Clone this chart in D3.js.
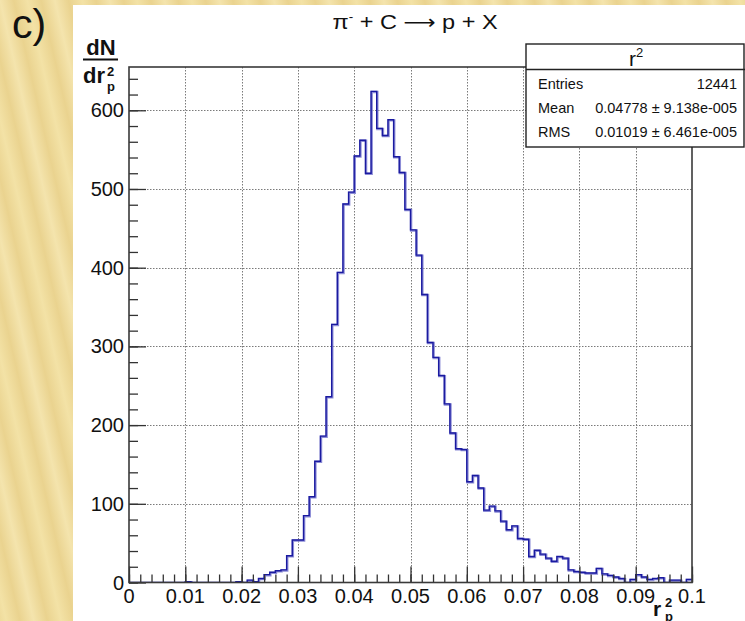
<!DOCTYPE html>
<html>
<head>
<meta charset="utf-8">
<script src="https://cdn.jsdelivr.net/npm/d3@7"></script>
<style>
  body { margin: 0; background: #fff; }
  svg { display: block; font-family: "Liberation Sans", Arial, sans-serif; }
</style>
</head>
<body>
<div id="chart"></div>
<script>
// histogram of r^2 (100 bins from 0 to 0.1), counts
const binCounts = [
  0, 0, 0, 0, 0, 0, 0, 0, 0, 0,
  1, 0, 0, 0, 0, 0, 0, 0, 0, 1,
  0, 3, 1, 5, 10, 13, 15, 16, 34, 54,
  54, 85, 109, 154, 186, 236, 328, 394, 481, 496,
  542, 562, 520, 624, 577, 568, 588, 541, 521, 474,
  448, 416, 366, 305, 286, 263, 227, 190, 170, 169,
  128, 136, 120, 92, 97, 91, 78, 67, 72, 56,
  55, 33, 41, 36, 31, 27, 33, 31, 16, 14,
  13, 12, 12, 18, 11, 9, 7, 5, 0, 4,
  10, 7, 4, 5, 6, 0, 3, 3, 0, 4,
];
const xDomain = [0, 0.1];
const yDomain = [0, 655];
const xTicks = [0, 0.01, 0.02, 0.03, 0.04, 0.05, 0.06, 0.07, 0.08, 0.09, 0.1];
const xTickLabels = ["0", "0.01", "0.02", "0.03", "0.04", "0.05", "0.06", "0.07", "0.08", "0.09", "0.1"];
const yTicks = [0, 100, 200, 300, 400, 500, 600];
const statsTitle = "r";
const statsRows = [
  ["Entries", "12441"],
  ["Mean", "0.04778 \u00b1 9.138e-005"],
  ["RMS", "0.01019 \u00b1 6.461e-005"],
];

const width = 745;
const height = 621;
const frame = { left: 129, right: 692, top: 67, bottom: 582.5 };

const svg = d3
  .select("#chart")
  .append("svg")
  .attr("width", width)
  .attr("height", height);

// parchment background with soft diagonal streaks
const defs = svg.append("defs");
const grad = defs
  .append("linearGradient")
  .attr("id", "parch")
  .attr("gradientUnits", "userSpaceOnUse")
  .attr("x1", 0)
  .attr("y1", 0)
  .attr("x2", 26)
  .attr("y2", -6)
  .attr("spreadMethod", "reflect");
grad.append("stop").attr("offset", "0%").attr("stop-color", "#f4e4ad");
grad.append("stop").attr("offset", "50%").attr("stop-color", "#ead38f");
grad.append("stop").attr("offset", "100%").attr("stop-color", "#f3e2a6");

defs
  .append("clipPath")
  .attr("id", "plotclip")
  .append("rect")
  .attr("x", frame.left)
  .attr("y", frame.top)
  .attr("width", frame.right - frame.left)
  .attr("height", frame.bottom - frame.top);

svg.append("rect").attr("width", width).attr("height", height).attr("fill", "url(#parch)");
svg.append("rect").attr("x", 73).attr("y", 5).attr("width", width - 73).attr("height", height - 5).attr("fill", "#fff");

svg
  .append("text")
  .attr("x", 12)
  .attr("y", 38)
  .attr("font-size", "41px")
  .attr("fill", "#111")
  .text("c)");

const x = d3.scaleLinear().domain(xDomain).range([frame.left, frame.right]);
const y = d3.scaleLinear().domain(yDomain).range([frame.bottom, frame.top]);

// dotted grid
const grid = svg.append("g").attr("stroke", "#7a7a7a").attr("stroke-dasharray", "1.5,1.5");
grid
  .selectAll("line.gx")
  .data(xTicks.slice(1, -1))
  .join("line")
  .attr("x1", (d) => Math.round(x(d)) + 0.5)
  .attr("x2", (d) => Math.round(x(d)) + 0.5)
  .attr("y1", frame.top)
  .attr("y2", frame.bottom);
grid
  .selectAll("line.gy")
  .data(yTicks.slice(1))
  .join("line")
  .attr("y1", (d) => Math.round(y(d)) + 0.5)
  .attr("y2", (d) => Math.round(y(d)) + 0.5)
  .attr("x1", frame.left)
  .attr("x2", frame.right);

// histogram outline
const binWidth = (xDomain[1] - xDomain[0]) / binCounts.length;
const steps = binCounts.map((c, i) => [xDomain[0] + i * binWidth, c]);
steps.push([xDomain[1], binCounts[binCounts.length - 1]]);

const line = d3
  .line()
  .x((d) => x(d[0]))
  .y((d) => y(d[1]))
  .curve(d3.curveStepAfter);

const hist = svg.append("g").attr("clip-path", "url(#plotclip)");
hist
  .append("path")
  .datum(steps)
  .attr("fill", "none")
  .attr("stroke", "#8c8cd6")
  .attr("stroke-width", 2.4)
  .attr("transform", "translate(0.6,0.6)")
  .attr("d", line);
hist
  .append("path")
  .datum(steps)
  .attr("fill", "none")
  .attr("stroke", "#1a1aa0")
  .attr("stroke-width", 1.4)
  .attr("d", line);

// axes with inward ticks (ROOT style)
function tickStyle(g) {
  g.select(".domain").remove();
  g.selectAll("line").attr("stroke", "#333").attr("stroke-width", 1.3);
}
svg
  .append("g")
  .attr("transform", `translate(0,${frame.bottom})`)
  .call(d3.axisTop(x).tickValues(d3.range(0, 0.1001, 0.002)).tickSize(8).tickFormat(""))
  .call(tickStyle);
svg
  .append("g")
  .attr("transform", `translate(0,${frame.bottom})`)
  .call(d3.axisTop(x).tickValues(xTicks).tickSize(16).tickFormat(""))
  .call(tickStyle);
svg
  .append("g")
  .attr("transform", `translate(${frame.left},0)`)
  .call(d3.axisRight(y).tickValues(d3.range(0, 655, 20)).tickSize(9).tickFormat(""))
  .call(tickStyle);
svg
  .append("g")
  .attr("transform", `translate(${frame.left},0)`)
  .call(d3.axisRight(y).tickValues(yTicks).tickSize(17).tickFormat(""))
  .call(tickStyle);

// frame
svg
  .append("rect")
  .attr("x", frame.left)
  .attr("y", frame.top)
  .attr("width", frame.right - frame.left)
  .attr("height", frame.bottom - frame.top)
  .attr("fill", "none")
  .attr("stroke", "#3a3a3a")
  .attr("stroke-width", 1.6);

// tick labels
svg
  .append("g")
  .selectAll("text")
  .data(xTicks)
  .join("text")
  .attr("x", (d) => x(d))
  .attr("y", 603)
  .attr("text-anchor", "middle")
  .attr("font-size", "20px")
  .attr("fill", "#111")
  .text((d, i) => xTickLabels[i]);

svg
  .append("g")
  .selectAll("text")
  .data(yTicks)
  .join("text")
  .attr("x", 124)
  .attr("y", (d) => y(d) + 7)
  .attr("text-anchor", "end")
  .attr("font-size", "20px")
  .attr("fill", "#111")
  .text((d) => d);

// title, slightly stretched like the source image
const title = svg
  .append("text")
  .attr("transform", "translate(415,29) scale(1.12,1)")
  .attr("text-anchor", "middle")
  .attr("font-size", "21px")
  .attr("fill", "#111");
title.append("tspan").text("\u03c0");
title.append("tspan").attr("font-size", "12px").attr("dy", -8).text("-");
title.append("tspan").attr("dy", 8).text(" + C ");
title.append("tspan").attr("font-family", "DejaVu Sans").attr("font-size", "20px").text("\u27f6");
title.append("tspan").text(" p + X");

// y axis title: dN / dr_p^2
const yt = svg.append("g").attr("font-weight", "bold").attr("fill", "#111");
yt.append("text").attr("x", 101).attr("y", 55).attr("text-anchor", "middle").attr("font-size", "22px").text("dN");
yt.append("line").attr("x1", 83).attr("x2", 118).attr("y1", 59.5).attr("y2", 59.5).attr("stroke", "#111").attr("stroke-width", 2);
yt.append("text").attr("x", 83).attr("y", 83).attr("font-size", "22px").text("dr");
yt.append("text").attr("x", 107).attr("y", 76).attr("font-size", "13px").text("2");
yt.append("text").attr("x", 107).attr("y", 91).attr("font-size", "13px").text("p");

// x axis title: r_p^2
const xt = svg.append("g").attr("font-weight", "bold").attr("fill", "#111");
xt.append("text").attr("x", 653).attr("y", 616).attr("font-size", "21px").text("r");
xt.append("text").attr("x", 665).attr("y", 607).attr("font-size", "13px").text("2");
xt.append("text").attr("x", 665).attr("y", 621).attr("font-size", "13px").text("p");

// statistics box
const box = svg.append("g");
box
  .append("rect")
  .attr("x", 526)
  .attr("y", 44)
  .attr("width", 218)
  .attr("height", 103)
  .attr("fill", "#fff")
  .attr("stroke", "#222")
  .attr("stroke-width", 1.4);
box.append("line").attr("x1", 526).attr("x2", 745).attr("y1", 69.5).attr("y2", 69.5).attr("stroke", "#222").attr("stroke-width", 1.3);
const bt = box.append("text").attr("x", 636).attr("y", 66).attr("text-anchor", "middle").attr("fill", "#111");
bt.append("tspan").attr("font-size", "21px").text(statsTitle);
bt.append("tspan").attr("font-size", "13px").attr("dy", -9).text("2");

statsRows.forEach((row, i) => {
  const by = 88.5 + i * 24;
  box.append("text").attr("x", 538).attr("y", by).attr("font-size", "14.5px").attr("fill", "#111").text(row[0]);
  box
    .append("text")
    .attr("x", 737)
    .attr("y", by)
    .attr("text-anchor", "end")
    .attr("font-size", "14.5px")
    .attr("fill", "#111")
    .text(row[1]);
});
</script>
</body>
</html>
